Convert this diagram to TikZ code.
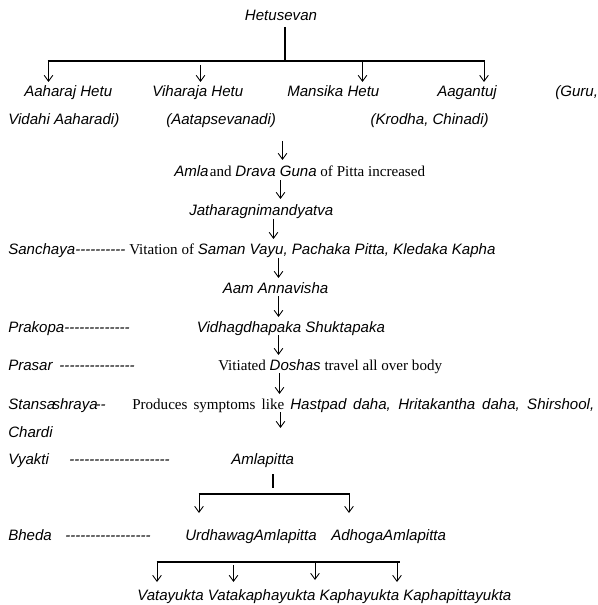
\documentclass[tikz,border=0pt]{standalone}
\usepackage{fontspec}
\setmainfont{Liberation Serif}
\newfontfamily\arialfam{Liberation Sans}
\usetikzlibrary{arrows.meta}
\newcommand\I[1]{{\arialfam\itshape #1}}
\newcommand\hy[1]{{\arialfam\itshape\foreach\dk in {1,...,#1}{-\kern0pt}}}
\tikzset{
  txt/.style={inner sep=0pt, anchor=base west, font=\fontsize{11.3}{13.6}\selectfont},
  arr/.style={line width=0.65pt, -{Straight Barb[length=4.5pt,width=6.5pt]}},
  bar/.style={line width=1.5pt}
}
\begin{document}
\begin{tikzpicture}[x=0.75pt,y=-0.75pt]
\fill[white] (0,0) rectangle (597,605);
\useasboundingbox (0,0) rectangle (597,605);

% top
\node[txt,anchor=base] (het) at (281,21) {\I{Hetusevan}};
\coordinate (v1a) at (285,27);
\coordinate (v1b) at (285,61);
\coordinate (h1l) at (47.5,61);
\coordinate (h1r) at (484.5,61);
\draw[bar] (v1a) -- (v1b);
\draw[bar] (h1l) -- (h1r);
\coordinate (t1) at (48.5,61);  \coordinate (t1e) at (48.5,82);
\coordinate (t2) at (200.5,65); \coordinate (t2e) at (200.5,82);
\coordinate (t3) at (362.5,61); \coordinate (t3e) at (362.5,82);
\coordinate (t4) at (484,61); \coordinate (t4e) at (484,82);
\draw[arr] (t1) -- (t1e);
\draw[arr] (t2) -- (t2e);
\draw[arr] (t3) -- (t3e);
\draw[arr] (t4) -- (t4e);

\node[txt] (r1a) at (24,97) {\I{Aaharaj Hetu}};
\node[txt] (r1b) at (152,97) {\I{Viharaja Hetu}};
\node[txt] (r1c) at (287,97) {\I{Mansika Hetu}};
\node[txt] (r1d) at (437,97) {\I{Aagantuj}};
\node[txt] (r1e) at (555,97) {\I{(Guru,}};
\node[txt] (r2a) at (8,125) {\I{Vidahi Aaharadi)}};
\node[txt] (r2b) at (166,125) {\I{(Aatapsevanadi)}};
\node[txt,anchor=base east] (r2c) at (489,125) {\I{(Krodha, Chinadi)}};

\coordinate (b1) at (282.5,141); \coordinate (b1e) at (282.5,160);
\draw[arr] (b1) -- (b1e);
\node[txt] (amla) at (174,177) {\I{Amla}\kern1pt and \I{Drava Guna} of Pitta increased};
\coordinate (b2) at (280.5,180); \coordinate (b2e) at (280.5,199);
\draw[arr] (b2) -- (b2e);
\node[txt] (jath) at (189,216) {\I{Jatharagnimandyatva}};
\coordinate (b3) at (273.5,219); \coordinate (b3e) at (273.5,239);
\draw[arr] (b3) -- (b3e);
\node[txt] (sanch) at (8,255) {\I{Sanchaya}\hy{10}};
\node[txt] (vit) at (129,255) {Vitation of \I{Saman Vayu, Pachaka Pitta, Kledaka Kapha}};
\coordinate (b4) at (278.5,258); \coordinate (b4e) at (278.5,278);
\draw[arr] (b4) -- (b4e);
\node[txt] (aam) at (222.5,293) {\I{Aam Annavisha}};
\coordinate (b5) at (278.5,296); \coordinate (b5e) at (278.5,317);
\draw[arr] (b5) -- (b5e);
\node[txt] (prak) at (8,332) {\I{Prakopa}\hy{13}};
\node[txt] (vidh) at (196.5,332) {\I{Vidhagdhapaka Shuktapaka}};
\coordinate (b6) at (278.5,335); \coordinate (b6e) at (278.5,355);
\draw[arr] (b6) -- (b6e);
\node[txt] (pras) at (8,370) {\I{Prasar}};
\node[txt,anchor=base east] (prasd) at (135,370) {\hy{15}};
\node[txt] (vitd) at (218,370) {Vitiated \I{Doshas} travel all over body};
\coordinate (b7) at (279.5,373); \coordinate (b7e) at (279.5,394);
\draw[arr] (b7) -- (b7e);
\node[txt] (stan) at (8,409) {\I{Stansa\kern-2pt shraya\kern-1.5pt\hy{2}}};
\node[txt] (prod) at (132,409) {\makebox[346.5pt][s]{Produces symptoms like \I{Hastpad daha, Hritakantha daha, Shirshool,}}};
\coordinate (b8) at (280.5,412); \coordinate (b8e) at (280.5,428);
\draw[arr] (b8) -- (b8e);
\node[txt] (chardi) at (8,437) {\I{Chardi}};
\node[txt] (vyak) at (8,464) {\I{Vyakti}};
\node[txt] (vyakd) at (69,464) {\hy{20}};
\node[txt] (amlap) at (231,464) {\I{Amlapitta}};
\coordinate (v2a) at (273,474); \coordinate (v2b) at (273,488);
\draw[bar] (v2a) -- (v2b);
\coordinate (h2l) at (198.5,494); \coordinate (h2r) at (349.5,494);
\draw[bar] (h2l) -- (h2r);
\coordinate (c1) at (199,494); \coordinate (c1e) at (199,513);
\coordinate (c2) at (349,494); \coordinate (c2e) at (349,513);
\draw[arr] (c1) -- (c1e);
\draw[arr] (c2) -- (c2e);
\node[txt] (bheda) at (8,540) {\I{Bheda}};
\node[txt] (bhedad) at (65,540) {\hy{17}};
\node[txt] (urdh) at (185,540) {\I{UrdhawagAmlapitta}};
\node[txt] (adho) at (331,540) {\I{AdhogaAmlapitta}};
\coordinate (h3l) at (156.5,562); \coordinate (h3r) at (399.5,562);
\draw[bar] (h3l) -- (h3r);
\coordinate (d1) at (157,562); \coordinate (d1e) at (157,582);
\coordinate (d2) at (233.5,565); \coordinate (d2e) at (233.5,582);
\coordinate (d3) at (315,562); \coordinate (d3e) at (315,580);
\coordinate (d4) at (397,562); \coordinate (d4e) at (397,582);
\draw[arr] (d1) -- (d1e);
\draw[arr] (d2) -- (d2e);
\draw[arr] (d3) -- (d3e);
\draw[arr] (d4) -- (d4e);
\node[txt] (bottom) at (137,600) {\I{Vatayukta Vatakaphayukta Kaphayukta Kaphapittayukta}};
\end{tikzpicture}
\end{document}
